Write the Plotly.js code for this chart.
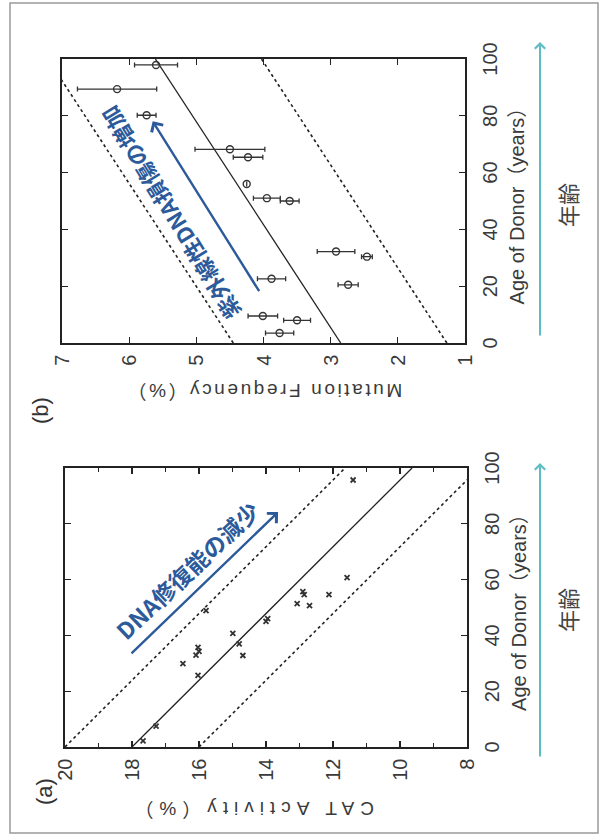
<!DOCTYPE html>
<html><head><meta charset="utf-8">
<script src="https://cdn.plot.ly/plotly-3.0.1.min.js"></script>
<style>
html,body{margin:0;padding:0;background:#fff;overflow:hidden;width:604px;height:838px;}
#wrap{position:absolute;left:0;top:0;width:838px;height:604px;transform-origin:0 0;transform:translate(0px,838px) rotate(-90deg);}
#chart{width:838px;height:604px;}
g.annotation[data-index="0"] text{letter-spacing:6px;}
text.y2title{letter-spacing:2.6px;}
</style></head><body><div id="wrap"><div id="chart"></div></div>
<script>
// ---- Panel (a): CAT activity vs age ----
const ageA = [2.2, 7.5, 25.7, 29.9, 32.9, 34.3, 35.7, 32.8, 37.0, 40.7, 45.0, 46.0, 48.9, 50.7, 51.4, 54.6, 54.6, 55.7, 60.7, 95.7];
const catA = [17.67, 17.28, 16.03, 16.48, 16.09, 16.00, 16.03, 14.69, 14.80, 14.99, 14.00, 13.95, 15.79, 12.70, 13.07, 12.86, 12.12, 12.90, 11.58, 11.40];
const lineAgeA = [0, 100];
const fitA = [18.0, 9.64];
const upperA = [20.0, 11.64];
const lowerA = [16.0, 7.64];

// ---- Panel (b): mutation frequency vs age ----
const ageB = [3.5, 8.0, 9.5, 20.5, 22.6, 30.4, 32.2, 50.0, 51.0, 56.0, 65.4, 68.2, 80.2, 89.4, 97.9];
const mutB = [3.76, 3.50, 4.01, 2.74, 3.88, 2.46, 2.92, 3.61, 3.95, 4.25, 4.23, 4.50, 5.74, 6.18, 5.60];
const errB = [0.21, 0.20, 0.22, 0.15, 0.21, 0.08, 0.28, 0.14, 0.20, 0.00, 0.22, 0.52, 0.14, 0.59, 0.32];
const lineAgeB = [0, 100];
const fitB = [2.85, 5.61];
const upperB = [4.45, 7.21];
const lowerB = [1.27, 4.03];

// ---- Text ----
const xTitle = 'Age of Donor（years）';
const yTitleA = 'CAT Activity（%）';
const yTitleB = 'Mutation Frequency（%）';
const noteA = 'DNA修復能の減少';
const noteB = '紫外線性DNA損傷の増加';
const ageWord = '年齢';

const FONT = '"Liberation Sans", "Noto Sans CJK JP", sans-serif';
const CJK = '"Noto Sans CJK JP", sans-serif';
const BLUE = '#2c5a9a';
const TEAL = '#5cbcc4';
const INK = '#222';

function lineTrace(x, y, dash, xa, ya) {
  return {x: x, y: y, xaxis: xa, yaxis: ya, mode: 'lines', type: 'scatter',
    line: {color: INK, width: dash ? 1.6 : 1.3, dash: dash ? '3px,3px' : 'solid'}, hoverinfo: 'skip'};
}

const traces = [
  lineTrace(lineAgeA, fitA, false, 'x', 'y'),
  lineTrace(lineAgeA, upperA, true, 'x', 'y'),
  lineTrace(lineAgeA, lowerA, true, 'x', 'y'),
  {x: ageA, y: catA, xaxis: 'x', yaxis: 'y', mode: 'markers', type: 'scatter',
   marker: {symbol: 'x-thin-open', size: 5, color: '#333', line: {width: 1.8, color: '#333'}}},
  lineTrace(lineAgeB, fitB, false, 'x2', 'y2'),
  lineTrace(lineAgeB, upperB, true, 'x2', 'y2'),
  lineTrace(lineAgeB, lowerB, true, 'x2', 'y2'),
  {x: ageB, y: mutB, xaxis: 'x2', yaxis: 'y2', mode: 'markers', type: 'scatter',
   error_y: {type: 'data', array: errB, visible: true, color: '#333', thickness: 1.3, width: 2.5},
   marker: {symbol: 'circle-open', size: 7, color: '#333', line: {width: 1.4, color: '#333'}}}
];

const axisBase = {
  showline: true, linecolor: INK, linewidth: 1.6, mirror: 'allticks',
  ticks: 'inside', ticklen: 6, tickwidth: 1.2, tickcolor: INK,
  showgrid: false, zeroline: false,
  tickfont: {family: FONT, size: 20, color: '#3a3a3a'},
  ticklabelstandoff: 6
};

const xaxisCommon = Object.assign({}, axisBase, {range: [0, 100], dtick: 20,
  title: {text: xTitle, standoff: 10, font: {family: FONT, size: 20, color: '#3a3a3a'}}});

function label(text, xo, yo, size, color, family, angle) {
  return {text: text, xref: 'paper', yref: 'paper', x: xo/838, y: 1 - yo/604,
    xanchor: 'center', yanchor: 'middle', showarrow: false, textangle: angle || 0,
    font: {family: family || FONT, size: size, color: color}};
}

const layout = {
  width: 838, height: 604,
  margin: {l: 0, r: 0, t: 0, b: 0},
  paper_bgcolor: '#fff', plot_bgcolor: '#fff',
  showlegend: false,
  font: {family: FONT, color: '#333'},
  xaxis: Object.assign({}, xaxisCommon, {domain: [91/838, 370/838], anchor: 'y'}),
  yaxis: Object.assign({}, axisBase, {domain: [1 - 467/604, 1 - 65/604], anchor: 'x', range: [8, 20], dtick: 2,
    minor: {dtick: 1, ticks: 'inside', ticklen: 4, tickcolor: INK}}),
  xaxis2: Object.assign({}, xaxisCommon, {domain: [495/838, 779/838], anchor: 'y2'}),
  yaxis2: Object.assign({}, axisBase, {domain: [1 - 465/604, 1 - 62/604], anchor: 'x2', range: [1, 7], dtick: 1,
    title: {text: yTitleB, standoff: 12, font: {family: FONT, size: 19, color: '#3a3a3a'}}}),
  shapes: [
    {type: 'rect', xref: 'paper', yref: 'paper', x0: 5/838, x1: 835/838, y0: 1 - 598/604, y1: 1 - 10/604,
     line: {color: '#9a9a9a', width: 1.5}, fillcolor: 'rgba(0,0,0,0)'}
  ],
  annotations: [
    label(yTitleA, 30, 251, 19, '#3a3a3a', FONT, -90),
    label('(a)', 46, 45, 22, '#333'),
    label('(b)', 428, 41, 22, '#333'),
    // blue arrows
    {xref: 'x', yref: 'y', axref: 'x', ayref: 'y', x: 84.2, y: 13.64, ax: 33.0, ay: 18.06, text: '',
     showarrow: true, arrowhead: 4, arrowsize: 1.1, arrowwidth: 2.4, arrowcolor: BLUE},
    {xref: 'x2', yref: 'y2', axref: 'x2', ayref: 'y2', x: 78.1, y: 5.65, ax: 17.7, ay: 4.05, text: '',
     showarrow: true, arrowhead: 4, arrowsize: 1.1, arrowwidth: 2.4, arrowcolor: BLUE},
    // blue notes
    {xref: 'x', yref: 'y', x: 63.4, y: 16.36, text: noteA, showarrow: false, textangle: 46.5,
     xanchor: 'center', yanchor: 'middle',
     font: {family: CJK, size: 23, color: BLUE, weight: 'bold'}},
    {xref: 'x2', yref: 'y2', x: 45.6, y: 5.39, text: noteB, showarrow: false, textangle: -31.5,
     xanchor: 'center', yanchor: 'middle',
     font: {family: CJK, size: 22, color: BLUE, weight: 'bold'}},
    // teal age arrows
    {xref: 'paper', yref: 'paper', x: 375/838, y: 1 - 540/604, ax: -295, ay: 0, text: '',
     showarrow: true, arrowhead: 4, arrowsize: 1, arrowwidth: 2, arrowcolor: TEAL},
    {xref: 'paper', yref: 'paper', x: 796/838, y: 1 - 540/604, ax: -295, ay: 0, text: '',
     showarrow: true, arrowhead: 4, arrowsize: 1, arrowwidth: 2, arrowcolor: TEAL},
    label(ageWord, 228, 567, 22, '#444', CJK),
    label(ageWord, 633, 567, 22, '#444', CJK)
  ]
};

Plotly.newPlot('chart', traces, layout, {staticPlot: true, displayModeBar: false});
</script>
</body></html>
